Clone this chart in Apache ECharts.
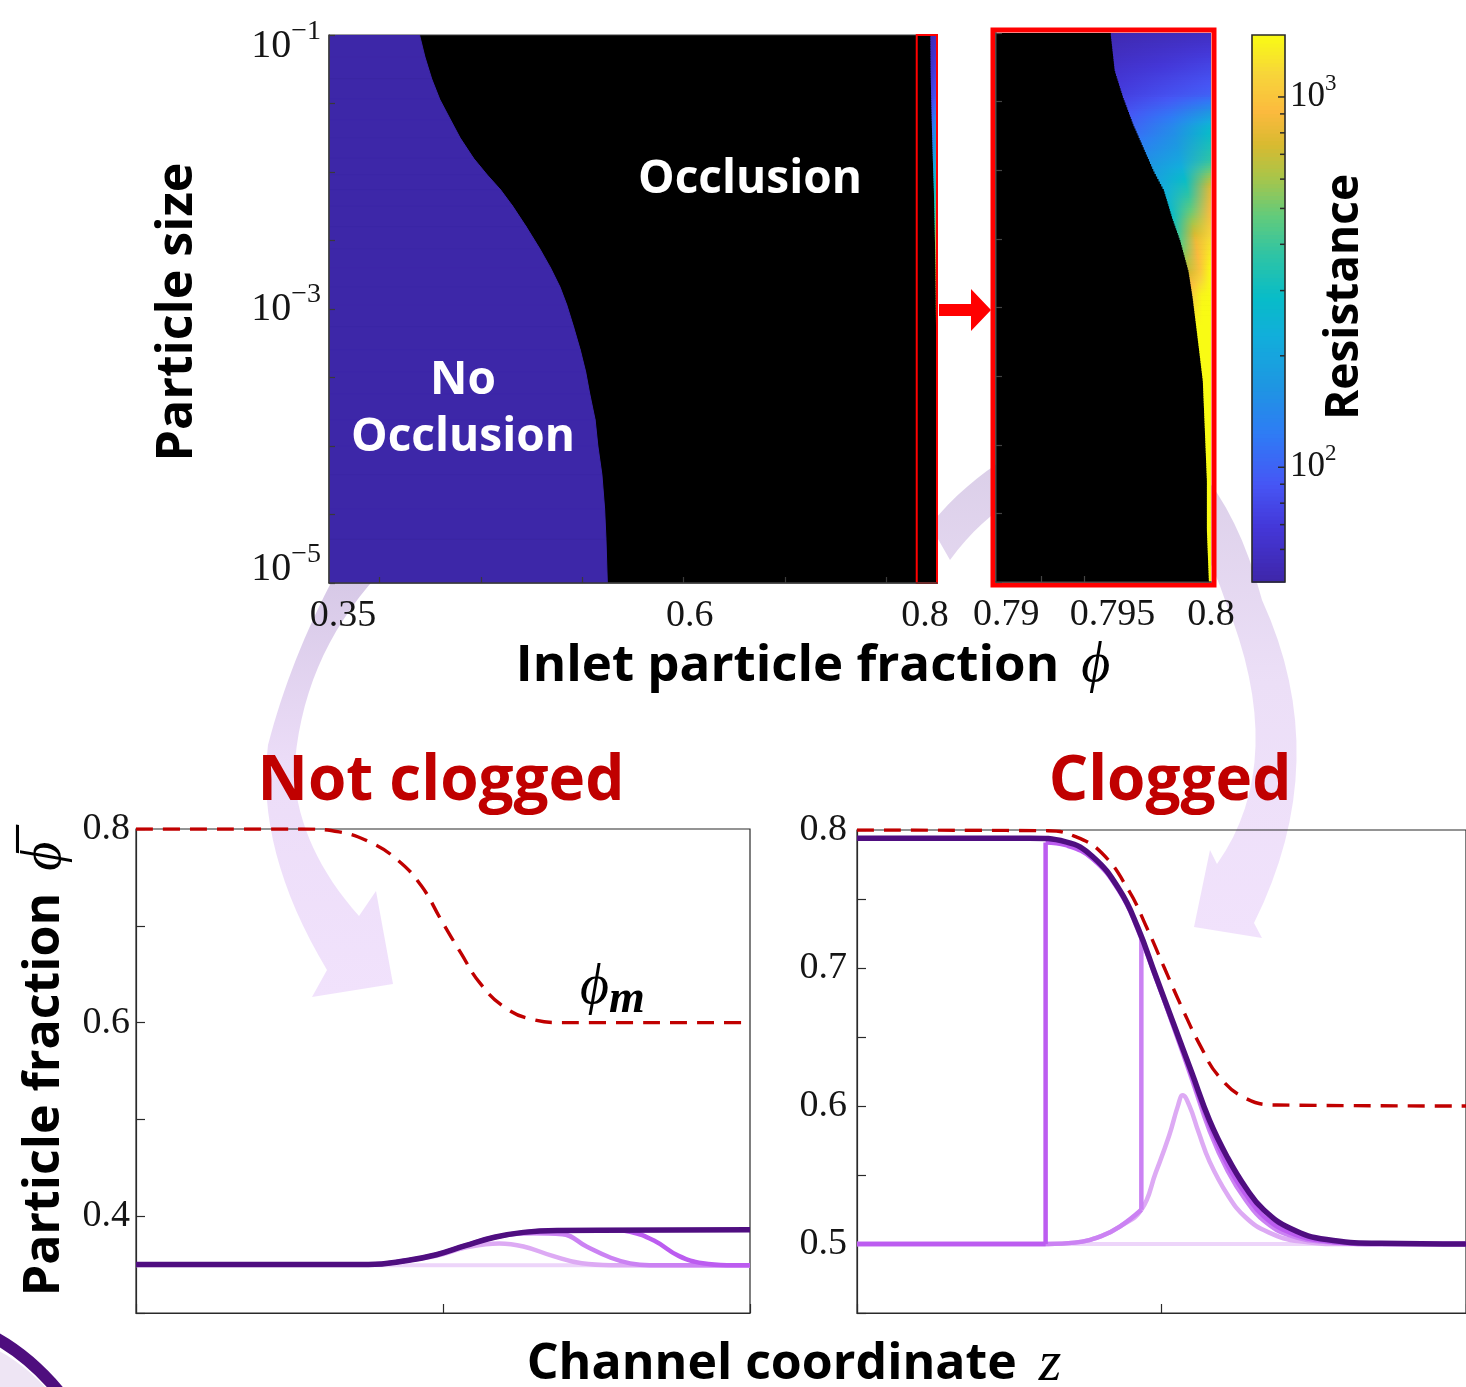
<!DOCTYPE html>
<html>
<head>
<meta charset="utf-8">
<title>Occlusion phase diagram and clogging profiles</title>
<script src="https://cdn.jsdelivr.net/npm/echarts@6.0.0/dist/echarts.min.js"></script>
<style>
html,body{margin:0;padding:0;background:#ffffff;}
#chart{width:1466px;height:1387px;}
</style>
</head>
<body>
<div id="chart"></div>
<script>
// ================= DATA =================
// Phase diagram: occlusion boundary (inlet fraction phi) vs log10(particle size)
const mainBoundaryLogSize = [-1, -1.16, -1.32, -1.47, -1.62, -1.75, -1.90, -2.02, -2.13, -2.25, -2.40, -2.56, -2.70, -2.84, -2.97, -3.13, -3.30, -3.46, -3.62, -3.81, -4.00, -4.21, -4.46, -4.68, -5];
const mainBoundaryPhi     = [0.417, 0.421, 0.426, 0.432, 0.440, 0.447, 0.457, 0.467, 0.477, 0.486, 0.496, 0.506, 0.514, 0.521, 0.526, 0.531, 0.536, 0.540, 0.543, 0.547, 0.549, 0.552, 0.554, 0.555, 0.556];
// Second (clogging) boundary close to phi = 0.8 (zoomed panel)
const zoomBoundaryLogSize = [-1, -1.27, -1.46, -1.66, -1.83, -2.0, -2.14, -2.34, -2.51, -2.73, -2.92, -3.16, -3.53, -3.89, -4.26, -4.62, -5];
const zoomBoundaryPhi     = [0.7951, 0.7953, 0.7957, 0.7962, 0.7967, 0.7972, 0.7977, 0.7981, 0.7985, 0.7989, 0.7991, 0.7993, 0.7996, 0.7997, 0.7998, 0.7998, 0.7999];
// Resistance read along rows: next to the boundary, halfway, and at phi = 0.8
const resistanceLogSize      = [-1, -1.2, -1.45, -1.69, -1.93, -2.13, -2.33, -2.52, -2.72, -2.91, -3.2, -5];
const resistanceNearBoundary = [52, 60, 74, 105, 162, 224, 288, 457, 692, 1122, 1585, 2000];
const resistanceMiddle       = [55, 66, 85, 145, 204, 331, 525, 851, 977, 1413, 1585, 2000];
const resistanceAtEdge       = [58, 74, 98, 270, 380, 794, 944, 1230, 1480, 1585, 1585, 2000];

// Axis ranges / ticks / tick labels
const mainPhiRange = [0.35, 0.8];
const zoomPhiRange = [0.7895, 0.8];
const sizeLogRange = [-5, -1];
const colorbarRange = [49, 1470];
const mainPhiTicks = [0.3875, 0.4625, 0.5375, 0.6125, 0.6875, 0.7625];
const zoomPhiTicks = [0.7917, 0.7938];
const mainPhiLabels = [0.35, 0.6, 0.8];
const zoomPhiLabels = [0.79, 0.795, 0.8];
const sizeLabelExponents = [-1, -3, -5];
const colorbarTickValues = [60, 70, 80, 90, 100, 200, 300, 400, 500, 600, 700, 800, 900, 1000];
const colorbarLabelValues = [100, 1000];
// Bottom panels: x = channel coordinate z (0..1)
const ncPhiM   = [[0,0.8],[0.27,0.8],[0.331,0.797],[0.379,0.787],[0.426,0.768],[0.465,0.741],[0.497,0.706],[0.529,0.672],[0.560,0.641],[0.600,0.616],[0.647,0.603],[0.694,0.600],[1,0.600]];
const ncTime0  = [[0,0.3494],[1,0.3494]];
const ncTime1  = [[0,0.35],[0.3785,0.35],[0.4417,0.3543],[0.4891,0.359],[0.5364,0.3675],[0.5917,0.3718],[0.6311,0.3687],[0.6785,0.359],[0.7259,0.3513],[0.7733,0.3494],[1,0.3494]];
const ncTime2  = [[0,0.35],[0.3785,0.35],[0.4417,0.3543],[0.4891,0.3602],[0.5364,0.3696],[0.5838,0.3783],[0.6469,0.3824],[0.6943,0.3814],[0.7338,0.3687],[0.7733,0.3571],[0.8048,0.3513],[0.8364,0.3494],[1,0.3494]];
const ncTime3  = [[0,0.35],[0.3785,0.35],[0.4417,0.3543],[0.4891,0.3602],[0.5364,0.3696],[0.5838,0.3783],[0.631,0.3833],[0.686,0.3852],[0.78,0.3855],[0.8048,0.384],[0.8443,0.3746],[0.8838,0.359],[0.9232,0.3513],[0.9627,0.3494],[1,0.3494]];
const ncFinal  = [[0,0.35],[0.3785,0.35],[0.4417,0.3543],[0.4891,0.3602],[0.5364,0.3696],[0.5838,0.3783],[0.631,0.3833],[0.686,0.3852],[1,0.386]];
const clPhiM   = [[0,0.8],[0.3135,0.7995],[0.3577,0.7954],[0.402,0.7833],[0.446,0.7563],[0.4757,0.7294],[0.505,0.6998],[0.5348,0.6701],[0.5643,0.6432],[0.5938,0.6217],[0.638,0.6056],[0.6898,0.6007],[1,0.6]];
const clTime0  = [[0,0.5],[1,0.5]];
const clTime1  = [[0,0.5],[0.3135,0.5],[0.3577,0.501],[0.402,0.5059],[0.4315,0.5126],[0.4669,0.5248],[0.4905,0.5517],[0.5126,0.5786],[0.527,0.6001],[0.5348,0.6077],[0.5459,0.6001],[0.5607,0.5813],[0.579,0.5597],[0.6087,0.5355],[0.638,0.5194],[0.675,0.5086],[0.7267,0.5019],[0.8005,0.5],[1,0.5]];
const clTime2  = [[0,0.5],[0.3135,0.5],[0.3577,0.501],[0.402,0.5059],[0.4315,0.5126],[0.4669,0.5248],[0.4669,0.7227],[0.4905,0.694],[0.52,0.657],[0.5495,0.620],[0.579,0.582],[0.6087,0.553],[0.6382,0.532],[0.6677,0.517],[0.712,0.506],[0.771,0.5015],[0.86,0.5],[1,0.5]];
const clTime3  = [[0,0.5],[0.3097,0.5],[0.3097,0.791],[0.3429,0.789],[0.3872,0.779],[0.4315,0.755],[0.461,0.728],[0.4905,0.693],[0.52,0.658],[0.5495,0.622],[0.579,0.586],[0.6087,0.557],[0.6382,0.536],[0.6677,0.520],[0.712,0.508],[0.771,0.502],[0.86,0.5],[1,0.5]];
const clFinal  = [[0,0.7941],[0.2838,0.7941],[0.3429,0.7914],[0.3872,0.7806],[0.4315,0.7563],[0.461,0.7294],[0.4905,0.6944],[0.52,0.6594],[0.5495,0.6244],[0.579,0.5894],[0.6087,0.5624],[0.6382,0.5409],[0.6677,0.5248],[0.712,0.5112],[0.771,0.5032],[0.8595,0.5005],[1,0.5]];

// ================= STYLE =================
const SANS = '"Open Sans","Noto Sans",sans-serif';
const SERIF = '"Liberation Serif","DejaVu Serif",serif';
const AXC = '#2a2a2a';
const NOOCC = '#3D27A8';
const LINE_C = ['#EDD5FA', '#DDAAF4', '#CB82F3', '#BC5CF0', '#4F0E80'];
const PHIM_C = '#C00000';
const TXT = '#151515';

function hex2rgb(h){ return [parseInt(h.slice(1,3),16), parseInt(h.slice(3,5),16), parseInt(h.slice(5,7),16)]; }
const PARULA = [[0,'#3E26A8'],[0.1,'#4437D8'],[0.18,'#4656F5'],[0.27,'#2F7BF5'],[0.36,'#1E96E2'],[0.45,'#12AEDB'],[0.52,'#08BCC8'],[0.6,'#2FC4A4'],[0.67,'#62CB7C'],[0.74,'#A8C54A'],[0.8,'#D8BA30'],[0.86,'#FBBA3E'],[0.93,'#F7D53A'],[1,'#F9FB14']].map(([t,c])=>[t,hex2rgb(c)]);
function cmap(t){
  t = Math.max(0, Math.min(1, t));
  for (let i = 0; i < PARULA.length - 1; i++){
    const [t0,c0] = PARULA[i], [t1,c1] = PARULA[i+1];
    if (t <= t1){
      const f = (t - t0) / (t1 - t0);
      return 'rgb(' + c0.map((v,k)=>Math.round(v + (c1[k]-v)*f)).join(',') + ')';
    }
  }
  return 'rgb(' + PARULA[PARULA.length-1][1].join(',') + ')';
}
const LMIN = Math.log10(colorbarRange[0]), LMAX = Math.log10(colorbarRange[1]);
const colorOfLog = l => cmap((l - LMIN) / (LMAX - LMIN));

function interp(xs, ys, x){
  for (let j = 0; j < xs.length - 1; j++){
    const a = xs[j], b = xs[j+1];
    if ((x - a) * (x - b) <= 0){
      const t = b === a ? 0 : (x - a) / (b - a);
      return ys[j] + (ys[j+1] - ys[j]) * t;
    }
  }
  return Math.abs(x - xs[0]) < Math.abs(x - xs[xs.length-1]) ? ys[0] : ys[ys.length-1];
}
function linGrad(x2, y2, stops){
  return {type:'linear', x:0, y:0, x2:x2, y2:y2, global:false, colorStops:stops};
}

// colored resistance field between clogging boundary and phi = 0.8
function fieldRenderer(xMax){
  return function(params, api){
    const i = params.dataIndex;
    if (i >= resistanceLogSize.length - 1) return null;
    const s0 = resistanceLogSize[i], s1 = resistanceLogSize[i+1];
    const top = api.coord([xMax, s0]), bot = api.coord([xMax, s1]);
    const K = Math.max(1, Math.ceil(Math.abs(bot[1] - top[1]) / 2.5));
    const L = [resistanceNearBoundary, resistanceMiddle, resistanceAtEdge].map(a => [Math.log10(a[i]), Math.log10(a[i+1])]);
    const children = [];
    for (let k = 0; k < K; k++){
      const fa = k / K, fb = (k + 1) / K, fm = (fa + fb) / 2;
      const sa = s0 + (s1 - s0) * fa, sb = s0 + (s1 - s0) * fb, sm = s0 + (s1 - s0) * fm;
      const bnd = interp(zoomBoundaryLogSize, zoomBoundaryPhi, sm);
      const p1 = api.coord([bnd, sa]), p2 = api.coord([xMax, sb]);
      const w = p2[0] - p1[0];
      if (w <= 0) continue;
      const cols = L.map(([a,b]) => colorOfLog(a + (b - a) * fm));
      children.push({type:'rect', shape:{x:p1[0], y:p1[1], width:w, height:p2[1]-p1[1]+0.8},
        style:{fill:linGrad(1,0,[{offset:0,color:cols[0]},{offset:0.5,color:cols[1]},{offset:1,color:cols[2]}])}});
    }
    return {type:'group', children};
  };
}

function frameRenderer(color, width, grow){
  return function(params, api){
    const p1 = api.coord([api.value(0), api.value(3)]);
    const p2 = api.coord([api.value(2), api.value(1)]);
    return {type:'rect', shape:{x:p1[0]-grow, y:p1[1]-grow, width:p2[0]-p1[0]+2*grow, height:p2[1]-p1[1]+2*grow},
      style:{fill:'none', stroke:color, lineWidth:width}};
  };
}

// superscript tick labels (10^n)
function powRich(size, supSize, d, raise){
  const base = {fontFamily:SERIF, fontSize:size, color:TXT, lineHeight:size+4};
  const sup = {fontFamily:SERIF, fontSize:supSize, color:TXT, lineHeight:supSize+4};
  if (d > 0) base.padding = [2*d,0,0,0]; else if (d < 0) base.padding = [0,0,-2*d,0];
  const diff = 2*d - 2*raise;
  sup.padding = diff < 0 ? [0,0,-diff,0] : [diff,0,0,0];
  return {base, sup};
}
const rTop = powRich(40, 28, 11, 14), rMid = powRich(40, 28, 0, 14), rBot = powRich(40, 28, -14, 14);
const rCb = powRich(35, 23, 0, 13);

const serifLabel = {fontFamily:SERIF, fontSize:38, color:TXT};

// decorative curved arrows (sampled quadratic curves -> polygon points)
function curvePoints(start, segs){
  const pts = [start.slice()];
  let cur = start.slice();
  segs.forEach(s => {
    if (s[0] === 'L'){ cur = [s[1], s[2]]; pts.push(cur.slice()); }
    else {
      const c = [s[1], s[2]], e = [s[3], s[4]];
      for (let k = 1; k <= 16; k++){
        const t = k / 16, u = 1 - t;
        pts.push([u*u*cur[0] + 2*u*t*c[0] + t*t*e[0], u*u*cur[1] + 2*u*t*c[1] + t*t*e[1]]);
      }
      cur = e;
    }
  });
  return pts;
}
const LEFT_ARC = curvePoints([335,575], [['Q',290,660,268,745],['Q',255,850,327,970],['L',312,997],['L',393,984],['L',376,891],['L',359,916],['Q',300,850,294,775],['Q',300,660,378,575]]);
const RIGHT_ARC = curvePoints([930,525], [['Q',1000,440,1100,425],['Q',1215,425,1262,600],['Q',1335,760,1254,923],['L',1262,938],['L',1194,927],['L',1210,850],['L',1217,864],['Q',1290,760,1225,600],['Q',1185,480,1100,475],['Q',1010,478,950,560]]);
const CORNER_FILL = curvePoints([-10,1346], [['Q',26,1364,52,1395],['L',-10,1395]]);

const chart = echarts.init(document.getElementById('chart'), null, {renderer:'canvas', width:1466, height:1387});

// line series; a profile with a vertical jump is split into smooth pieces joined by a straight jump
function lineSeries(xi, data, color, width, dashed, z){
  const pieces = [];
  let cur = [data[0]];
  for (let k = 1; k < data.length; k++){
    if (data[k][0] === data[k-1][0]){
      pieces.push({d:cur, smooth:0.45});
      pieces.push({d:[data[k-1], data[k]], smooth:false});
      cur = [data[k]];
    } else cur.push(data[k]);
  }
  pieces.push({d:cur, smooth:0.45});
  return pieces.filter(p => p.d.length > 1).map(p => ({type:'line', xAxisIndex:xi, yAxisIndex:xi, data:p.d, showSymbol:false, symbol:'none', silent:true,
    smooth:p.smooth, z: z || 3,
    lineStyle:{color, width, type: dashed ? [17,10] : 'solid', cap:'butt', join:'round'}}));
}

const option = {
  animation:false,
  backgroundColor:'#ffffff',
  grid:[
    {left:329, top:35, width:608, height:548, show:true, backgroundColor:'#000', borderColor:'#3a3a3a', borderWidth:1},
    {left:996, top:33, width:215, height:549, show:true, backgroundColor:'#000', borderWidth:0},
    {left:1252, top:35, width:33, height:547},
    {left:136, top:829, width:614, height:484, show:true, backgroundColor:'transparent', borderColor:AXC, borderWidth:1.2},
    {left:857, top:830, width:610, height:483, show:true, backgroundColor:'transparent', borderColor:AXC, borderWidth:1.2}
  ],
  xAxis:[
    {gridIndex:0, type:'value', min:mainPhiRange[0], max:mainPhiRange[1], z:10,
      axisLine:{lineStyle:{color:'#3a3a3a', width:1.5}},
      axisTick:{inside:true, length:6, customValues:mainPhiTicks, lineStyle:{color:'#3a3a3a', width:1.2}},
      splitLine:{show:false},
      axisLabel:{customValues:mainPhiLabels, margin:14,
        formatter:v => { const k = Math.abs(v-0.35)<1e-9 ? 'a' : (Math.abs(v-0.6)<1e-9 ? 'b' : 'c'); return '{'+k+'|'+v+'}'; },
        rich:{a:Object.assign({padding:[0,0,0,28]}, serifLabel), b:Object.assign({padding:[0,0,0,46]}, serifLabel), c:Object.assign({padding:[0,24,0,0]}, serifLabel)}}},
    {gridIndex:1, type:'value', min:zoomPhiRange[0], max:zoomPhiRange[1], z:10,
      axisLine:{lineStyle:{color:'#333', width:1.5}},
      axisTick:{inside:true, length:6, customValues:zoomPhiTicks, lineStyle:{color:'#444', width:1.2}},
      splitLine:{show:false},
      axisLabel:{customValues:zoomPhiLabels, margin:14,
        formatter:v => { const k = Math.abs(v-0.795)<1e-9 ? 'b' : 'a'; return '{'+k+'|'+v+'}'; },
        rich:{a:Object.assign({}, serifLabel), b:Object.assign({padding:[0,0,0,8]}, serifLabel)}}},
    {gridIndex:2, type:'value', min:0, max:1, show:false},
    {gridIndex:3, type:'value', min:0, max:1, interval:0.5,
      axisLine:{lineStyle:{color:AXC, width:1.2}}, axisTick:{inside:true, length:9, lineStyle:{color:AXC, width:1.2}},
      axisLabel:{show:false}, splitLine:{show:false}},
    {gridIndex:4, type:'value', min:0, max:1, interval:0.5,
      axisLine:{lineStyle:{color:AXC, width:1.2}}, axisTick:{inside:true, length:9, lineStyle:{color:AXC, width:1.2}},
      axisLabel:{show:false}, splitLine:{show:false}}
  ],
  yAxis:[
    {gridIndex:0, type:'value', min:sizeLogRange[0], max:sizeLogRange[1], interval:0.5, z:10,
      axisLine:{show:true, lineStyle:{color:'#3a3a3a', width:1.5}},
      axisTick:{show:true, inside:true, length:6, lineStyle:{color:'#3a3a3a', width:1.2}},
      splitLine:{show:false},
      axisLabel:{margin:8,
        formatter:v => { const e = Math.round(v); if (Math.abs(v-e) > 1e-6 || sizeLabelExponents.indexOf(e) < 0) return '';
          const k = e === -1 ? 't' : (e === -3 ? 'm' : 'b'); return '{'+k+'B|10}{'+k+'S|\u2212'+(-e)+'}'; },
        rich:{tB:rTop.base, tS:rTop.sup, mB:rMid.base, mS:rMid.sup, bB:rBot.base, bS:rBot.sup}}},
    {gridIndex:1, type:'value', min:sizeLogRange[0], max:sizeLogRange[1], interval:0.5, z:10,
      axisLine:{show:true, lineStyle:{color:'#333', width:1.5}},
      axisTick:{show:true, inside:true, length:6, lineStyle:{color:'#444', width:1.2}},
      splitLine:{show:false}, axisLabel:{show:false}},
    {gridIndex:2, type:'value', position:'right', min:LMIN, max:LMAX, z:10,
      axisLine:{show:false}, axisTick:{show:false},
      splitLine:{show:false},
      axisLabel:{customValues:colorbarLabelValues.map(v=>Math.log10(v)), margin:5,
        formatter:v => '{B|10}{S|' + Math.round(v) + '}', rich:{B:rCb.base, S:rCb.sup}}},
    {gridIndex:3, type:'value', min:0.3, max:0.8, interval:0.1,
      axisLine:{show:true, lineStyle:{color:AXC, width:1.2}},
      axisTick:{show:true, inside:true, length:9, lineStyle:{color:AXC, width:1.2}},
      splitLine:{show:false},
      axisLabel:{margin:6, formatter:v => { const r = Math.round(v*10); return (Math.abs(v*10-r)<1e-6 && r % 2 === 0 && r >= 4) ? (r/10).toFixed(1) : ''; }, fontFamily:SERIF, fontSize:38, color:TXT}},
    {gridIndex:4, type:'value', min:0.45, max:0.8, interval:0.05,
      axisLine:{show:true, lineStyle:{color:AXC, width:1.2}},
      axisTick:{show:true, inside:true, length:9, lineStyle:{color:AXC, width:1.2}},
      splitLine:{show:false},
      axisLabel:{margin:10, formatter:v => { const r = Math.round(v*10); return Math.abs(v*10-r)<1e-6 ? (r/10).toFixed(1) : ''; }, fontFamily:SERIF, fontSize:38, color:TXT}}
  ],
  series:[
    // no-occlusion region (left of occlusion boundary)
    {type:'custom', xAxisIndex:0, yAxisIndex:0, silent:true, clip:true, z:2,
      data: mainBoundaryPhi.map((p,i)=>[p, mainBoundaryLogSize[i]]),
      renderItem(params, api){
        const i = params.dataIndex;
        if (i >= mainBoundaryPhi.length - 1) return null;
        const pts = [api.coord([mainPhiRange[0], api.value(1)]), api.coord([api.value(0), api.value(1)]),
          api.coord([mainBoundaryPhi[i+1], mainBoundaryLogSize[i+1]]), api.coord([mainPhiRange[0], mainBoundaryLogSize[i+1]])];
        return {type:'polygon', shape:{points:pts}, style:{fill:NOOCC, stroke:NOOCC, lineWidth:1}};
      }},
    // resistance strip in main panel
    {type:'custom', xAxisIndex:0, yAxisIndex:0, silent:true, clip:true, z:2,
      data: resistanceLogSize.map(s=>[mainPhiRange[1], s]), renderItem: fieldRenderer(mainPhiRange[1])},
    // red box marking zoom region
    {type:'custom', xAxisIndex:0, yAxisIndex:0, silent:true, clip:false, z:4,
      data:[[0.785, sizeLogRange[0], 0.8, sizeLogRange[1]]], renderItem: frameRenderer('#FF0000', 2, 0)},
    // zoomed resistance field
    {type:'custom', xAxisIndex:1, yAxisIndex:1, silent:true, clip:true, z:2,
      data: resistanceLogSize.map(s=>[zoomPhiRange[1], s]), renderItem: fieldRenderer(zoomPhiRange[1])},
    // red frame around zoom
    {type:'custom', xAxisIndex:1, yAxisIndex:1, silent:true, clip:false, z:4,
      data:[[zoomPhiRange[0], sizeLogRange[0], zoomPhiRange[1], sizeLogRange[1]]], renderItem: frameRenderer('#FF0000', 5, 3)},
    // colorbar with log ticks
    {type:'custom', xAxisIndex:2, yAxisIndex:2, silent:true, clip:false, z:2,
      data:[[0, LMIN]],
      renderItem(params, api){
        const N = 140, children = [];
        for (let k = 0; k < N; k++){
          const a = LMIN + (LMAX-LMIN)*k/N, b = LMIN + (LMAX-LMIN)*(k+1)/N;
          const p1 = api.coord([0,b]), p2 = api.coord([1,a]);
          children.push({type:'rect', shape:{x:p1[0], y:p1[1], width:p2[0]-p1[0], height:p2[1]-p1[1]+0.8}, style:{fill:colorOfLog((a+b)/2)}});
        }
        colorbarTickValues.forEach(v => {
          const p = api.coord([1, Math.log10(v)]);
          const len = colorbarLabelValues.indexOf(v) >= 0 ? 7 : 5;
          children.push({type:'line', shape:{x1:p[0], y1:p[1], x2:p[0]-len, y2:p[1]}, style:{stroke:AXC, lineWidth:1.5}});
        });
        const q1 = api.coord([0,LMAX]), q2 = api.coord([1,LMIN]);
        children.push({type:'rect', shape:{x:q1[0], y:q1[1], width:q2[0]-q1[0], height:q2[1]-q1[1]}, style:{fill:'none', stroke:AXC, lineWidth:1.6}});
        return {type:'group', children};
      }},
    // Not clogged panel
    ...lineSeries(3, ncTime0, LINE_C[0], 4),
    ...lineSeries(3, ncTime1, LINE_C[1], 4.5),
    ...lineSeries(3, ncTime2, LINE_C[2], 4.5),
    ...lineSeries(3, ncTime3, LINE_C[3], 4.5),
    ...lineSeries(3, ncFinal, LINE_C[4], 5.5),
    ...lineSeries(3, ncPhiM, PHIM_C, 3.4, true, 6),
    // Clogged panel
    ...lineSeries(4, clTime0, LINE_C[0], 4),
    ...lineSeries(4, clTime1, LINE_C[1], 4.5),
    ...lineSeries(4, clTime2, LINE_C[2], 4.5),
    ...lineSeries(4, clTime3, LINE_C[3], 4.5),
    ...lineSeries(4, clFinal, LINE_C[4], 5.5),
    ...lineSeries(4, clPhiM, PHIM_C, 3.4, true, 6)
  ],
  graphic:{elements:[
    {type:'polygon', z:-10, silent:true, shape:{points:LEFT_ARC},
      style:{fill:linGrad(0,1,[{offset:0,color:'#D6C8E6'},{offset:0.45,color:'#ECDDF8'},{offset:1,color:'#F1E2FC'}])}},
    {type:'polygon', z:-10, silent:true, shape:{points:RIGHT_ARC},
      style:{fill:linGrad(0,1,[{offset:0,color:'#D8CCE6'},{offset:0.5,color:'#ECDFF7'},{offset:1,color:'#F1E2FC'}])}},
    {type:'polygon', z:-10, silent:true, shape:{points:CORNER_FILL}, style:{fill:'#EEE5F4'}},
    {type:'bezierCurve', z:-9, silent:true, shape:{x1:-12, y1:1334, cpx1:30, cpy1:1355, x2:64, y2:1398}, style:{fill:'none', stroke:'#4E0E7E', lineWidth:12}},
    // red arrow between panels
    {type:'polygon', z:20, silent:true, shape:{points:[[939,304],[971,304],[971,289],[991,310],[971,331],[971,316],[939,316]]}, style:{fill:'#FF0000'}},
    // region labels
    {type:'text', z:50, silent:true, x:750, y:180, style:{text:'Occlusion', fontFamily:SANS, fontWeight:'bold', fontSize:46, fill:'#ffffff', align:'center', verticalAlign:'middle'}},
    {type:'text', z:50, silent:true, x:463, y:409, style:{text:'No\nOcclusion', fontFamily:SANS, fontWeight:'bold', fontSize:46, lineHeight:57, fill:'#ffffff', align:'center', verticalAlign:'middle'}},
    // axis titles
    {type:'text', z:50, silent:true, x:178, y:312, rotation:Math.PI/2, style:{text:'Particle size', fontFamily:SANS, fontWeight:'bold', fontSize:50, fill:'#000', align:'center', verticalAlign:'middle'}},
    {type:'text', z:50, silent:true, x:1345, y:297, rotation:Math.PI/2, style:{text:'Resistance', fontFamily:SANS, fontWeight:'bold', fontSize:46, fill:'#000', align:'center', verticalAlign:'middle'}},
    {type:'text', z:50, silent:true, x:813, y:666, style:{text:'{a|Inlet particle fraction}{b|\u03D5}', align:'center', verticalAlign:'middle',
      rich:{a:{fontFamily:SANS, fontWeight:'bold', fontSize:51, fill:'#000'}, b:{fontFamily:SERIF, fontStyle:'italic', fontSize:56, fill:'#000', padding:[0,0,0,22]}}}},
    {type:'text', z:50, silent:true, x:441, y:782, style:{text:'Not clogged', fontFamily:SANS, fontWeight:'bold', fontSize:62, fill:'#C00000', align:'center', verticalAlign:'middle'}},
    {type:'text', z:50, silent:true, x:1170, y:782, style:{text:'Clogged', fontFamily:SANS, fontWeight:'bold', fontSize:62, fill:'#C00000', align:'center', verticalAlign:'middle'}},
    {type:'text', z:50, silent:true, x:45, y:1069, rotation:Math.PI/2, style:{text:'{a|Particle fraction}{b|\u03D5\u0305}', align:'center', verticalAlign:'middle',
      rich:{a:{fontFamily:SANS, fontWeight:'bold', fontSize:50, fill:'#000'}, b:{fontFamily:SERIF, fontStyle:'italic', fontSize:56, fill:'#000', padding:[0,0,0,22]}}}},
    {type:'text', z:50, silent:true, x:794, y:1365, style:{text:'{a|Channel coordinate}{b|z}', align:'center', verticalAlign:'middle',
      rich:{a:{fontFamily:SANS, fontWeight:'bold', fontSize:50, fill:'#000'}, b:{fontFamily:SERIF, fontStyle:'italic', fontSize:58, fill:'#000', padding:[0,0,0,22]}}}},
    {type:'text', z:50, silent:true, x:580, y:988, style:{text:'{p|\u03D5}{m|m}', align:'left', verticalAlign:'middle',
      rich:{p:{fontFamily:SERIF, fontStyle:'italic', fontSize:56, fill:'#000'}, m:{fontFamily:SERIF, fontStyle:'italic', fontWeight:'bold', fontSize:46, fill:'#000', padding:[24,0,0,0]}}}}
  ]}
};
chart.setOption(option);
</script>
</body>
</html>
